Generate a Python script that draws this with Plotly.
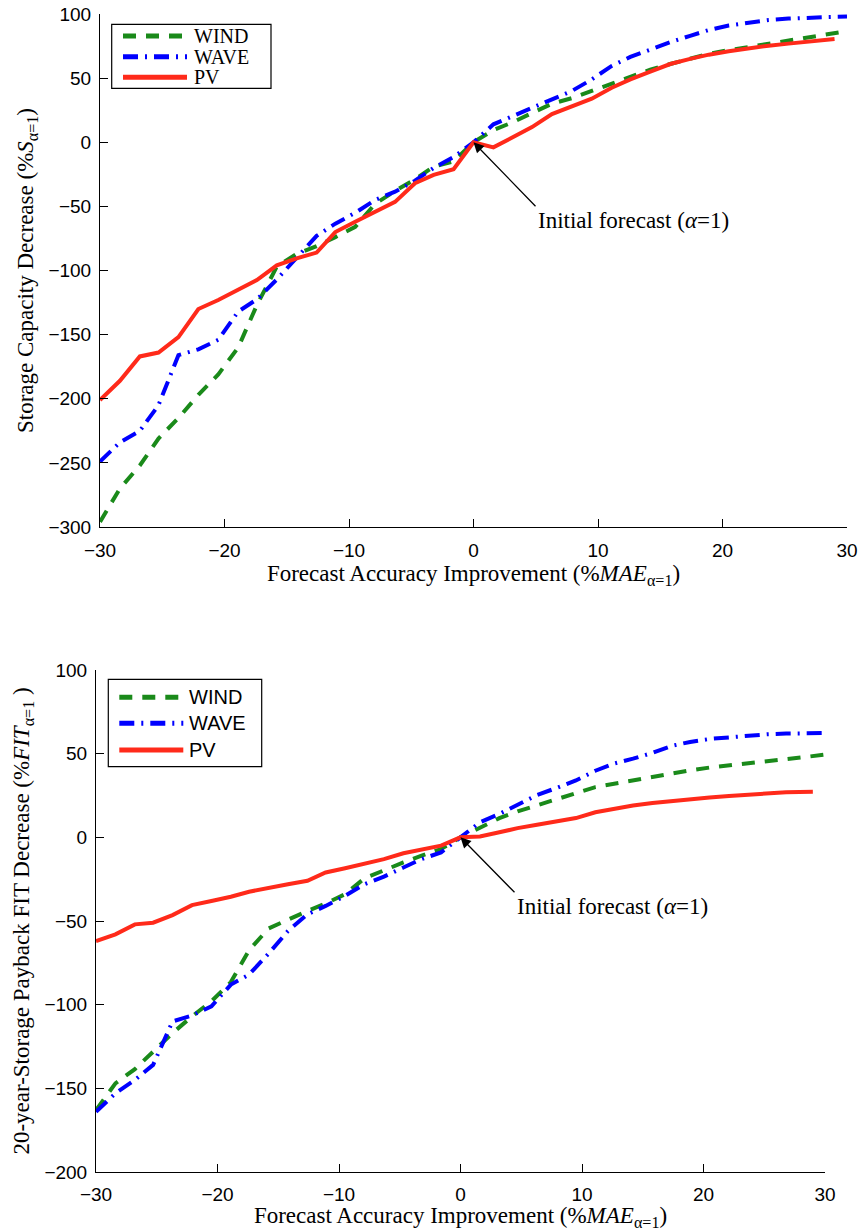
import plotly.graph_objects as go

# ---------------- data ----------------
X = [-30.0, -28.4, -26.8, -25.3, -23.7, -22.1, -20.5, -18.9, -17.4, -15.8,
     -14.2, -12.6, -11.1, -9.5, -7.9, -6.3, -4.7, -3.2, -1.6, 0.0,
     1.6, 3.2, 4.7, 6.3, 7.9, 9.5, 11.1, 12.6, 14.2, 15.8,
     17.4, 18.9, 20.5, 22.1, 23.7, 25.3, 26.8, 28.4, 30.0]
X_PV = X[:37] + [29.0]

# Top panel: storage capacity decrease (%S_alpha=1)
TOP_WIND = [-296, -270, -252, -231, -215, -197, -181, -160, -127, -97,
            -87, -81, -74, -66, -48, -38, -29, -19, -15, 0,
            9.5, 15.8, 22.8, 30, 34.4, 40, 45.6, 51, 56.6, 61,
            65, 69, 71.8, 74.4, 76.9, 79.3, 81.5, 84, 86.6]
TOP_WAVE = [-249, -234, -225, -205, -166, -161.5, -154, -132, -122.5, -107,
            -90, -73, -63.5, -55, -45, -38.5, -30, -20, -11.5, 0,
            14, 20.5, 27, 33.5, 40, 49, 59.5, 66.5, 72.5, 78,
            83, 87.5, 91, 93.5, 95.3, 96.4, 97.2, 97.6, 98]
TOP_PV = [-201, -186, -167, -164, -152, -130, -123, -115, -107.5, -96,
          -90.5, -86, -70, -62, -54, -46.5, -32, -25.5, -21, 0,
          -4, 4.5, 11.8, 22, 27.6, 34, 42.5, 49, 55, 61,
          65, 68.3, 71, 73.4, 75.3, 76.9, 78.4, 80.5]

# Bottom panel: 20-year storage payback FIT decrease (%FIT_alpha=1)
BOT_WIND = [-163, -147, -138.5, -128, -117, -107, -98, -86.5, -67.5, -54.5,
            -49, -44, -39.5, -34, -24.5, -19.5, -15, -11, -7, 0,
            6, 11.5, 15.5, 19.3, 23, 26.4, 30, 32, 34, 36.3,
            38.5, 40, 41.7, 42.9, 44, 45.2, 46.5, 48, 49.5]
BOT_WAVE = [-164, -153, -145, -136, -110, -106.5, -101, -88, -82, -69.5,
            -56, -46, -41, -35, -28, -23.5, -18, -13, -9, 0,
            9, 14, 19.5, 25.3, 29.5, 34, 39.8, 44, 47, 50.5,
            54.7, 57, 58.8, 59.9, 60.7, 61.6, 62, 62.2, 62.3]
BOT_PV = [-62, -58, -52, -51, -46.5, -40.5, -38, -35.5, -32.5, -30,
          -28, -26, -21, -18.5, -16, -13, -9.5, -7.5, -5, 0,
          0.5, 3, 5.5, 7.5, 9.5, 11.5, 15, 17, 19, 20.5,
          21.8, 22.8, 23.8, 24.7, 25.6, 26.6, 27, 27.3]

SERIES = ["WIND", "WAVE", "PV"]
X_TICKS = [-30, -20, -10, 0, 10, 20, 30]
Y_TICKS_TOP = [-300, -250, -200, -150, -100, -50, 0, 50, 100]
Y_TICKS_BOT = [-200, -150, -100, -50, 0, 50, 100]

# ---------------- styles ----------------
W, H = 862, 1231
COLORS = {"WIND": "#1a8a1a", "WAVE": "#0000ff", "PV": "#ff2a1a"}
DASHES = {"WIND": "13px,10px", "WAVE": "15px,7px,2px,7px", "PV": "solid"}
LW = 4
SERIF = "Liberation Serif"
SANS = "Liberation Sans"


def fx(px):
    return px / W


def fy(py):
    return 1 - py / H


fig = go.Figure()

top = {"WIND": (X, TOP_WIND), "WAVE": (X, TOP_WAVE), "PV": (X_PV, TOP_PV)}
bot = {"WIND": (X, BOT_WIND), "WAVE": (X, BOT_WAVE), "PV": (X_PV, BOT_PV)}

for name in SERIES:
    xs, ys = top[name]
    fig.add_trace(go.Scatter(x=xs, y=ys, name=name, mode="lines",
                             line=dict(color=COLORS[name], width=LW, dash=DASHES[name]),
                             xaxis="x", yaxis="y", showlegend=False))
for name in SERIES:
    xs, ys = bot[name]
    fig.add_trace(go.Scatter(x=xs, y=ys, name=name, mode="lines",
                             line=dict(color=COLORS[name], width=LW, dash=DASHES[name]),
                             xaxis="x2", yaxis="y2", showlegend=False))

axis_common = dict(showline=True, linecolor="black", linewidth=1, mirror=False,
                   ticks="inside", ticklen=8, tickcolor="black", tickwidth=1,
                   showgrid=False, zeroline=False, automargin=False,
                   ticklabeloverflow="allow",
                   tickfont=dict(family=SANS, size=19, color="black"))

title_font = dict(family=SERIF, size=23, color="black")

fig.update_layout(
    width=W, height=H,
    margin=dict(l=0, r=0, t=0, b=0, autoexpand=False),
    paper_bgcolor="white", plot_bgcolor="white",
    showlegend=False,
    xaxis=dict(domain=[fx(100), fx(847)], anchor="y", range=[-30, 30],
               tickmode="array", tickvals=X_TICKS, ticklabelstandoff=6,
               title=dict(text="Forecast Accuracy Improvement (%<i>MAE</i><sub>α=1</sub>)",
                          font=title_font, standoff=2),
               **axis_common),
    yaxis=dict(domain=[fy(527), fy(14)], anchor="x", range=[-300, 100],
               tickmode="array", tickvals=Y_TICKS_TOP, ticklabelstandoff=4,
               title=dict(text="Storage Capacity Decrease (%<i>S</i><sub>α=1</sub>)",
                          font=title_font, standoff=8),
               **axis_common),
    xaxis2=dict(domain=[fx(96), fx(825)], anchor="y2", range=[-30, 30],
                tickmode="array", tickvals=X_TICKS, ticklabelstandoff=5,
                title=dict(text="Forecast Accuracy Improvement (%<i>MAE</i><sub>α=1</sub>)",
                           font=title_font, standoff=0),
                **axis_common),
    yaxis2=dict(domain=[fy(1172), fy(670)], anchor="x2", range=[-200, 100],
                tickmode="array", tickvals=Y_TICKS_BOT, ticklabelstandoff=4,
                title=dict(text="20-year-Storage Payback FIT Decrease (%<i>FIT</i><sub>α=1</sub> )",
                           font=title_font, standoff=8),
                **axis_common),
)

# arrows "Initial forecast"
ann_font = dict(family=SERIF, size=23, color="black")
fig.add_annotation(x=0, y=0, xref="x", yref="y", ax=62, ay=64,
                   text="Initial forecast (<i>α</i>=1)", showarrow=True,
                   xanchor="left", yanchor="top", font=ann_font,
                   arrowhead=2, arrowsize=1.6, arrowwidth=1.3, arrowcolor="black",
                   standoff=0)
fig.add_annotation(x=0, y=0, xref="x2", yref="y2", ax=54, ay=55,
                   text="Initial forecast (<i>α</i>=1)", showarrow=True,
                   xanchor="left", yanchor="top", font=ann_font,
                   arrowhead=2, arrowsize=1.6, arrowwidth=1.3, arrowcolor="black",
                   standoff=0)

# legends (drawn as boxes with line samples)
def legend_box(box, x0, x1, ys, tx, family, size):
    fig.add_shape(type="rect", xref="paper", yref="paper",
                  x0=fx(box[0]), y0=fy(box[1]), x1=fx(box[2]), y1=fy(box[3]),
                  line=dict(color="black", width=1.2), fillcolor="white", layer="above")
    for name, yy in zip(SERIES, ys):
        fig.add_shape(type="line", xref="paper", yref="paper",
                      x0=fx(x0), x1=fx(x1), y0=fy(yy), y1=fy(yy),
                      line=dict(color=COLORS[name], width=LW + 1, dash=DASHES[name]),
                      layer="above")
        fig.add_annotation(x=fx(tx), y=fy(yy), xref="paper", yref="paper",
                           text=name, showarrow=False, xanchor="left", yanchor="middle",
                           font=dict(family=family, size=size, color="black"),
                           borderpad=0)


legend_box((111.7, 24.3, 271, 88.3), 123, 187, (36, 56.7, 77.3), 193, SERIF, 20)
legend_box((108.3, 679.3, 261.7, 766.7), 119.3, 183.3, (697.3, 723.3, 750), 188, SANS, 20)

# the page body gets no margin so the figure fills the window exactly
fig.write_html("out.html",
               config={"displayModeBar": False},
               post_script="document.body.style.margin='0';document.body.style.overflow='hidden';")
